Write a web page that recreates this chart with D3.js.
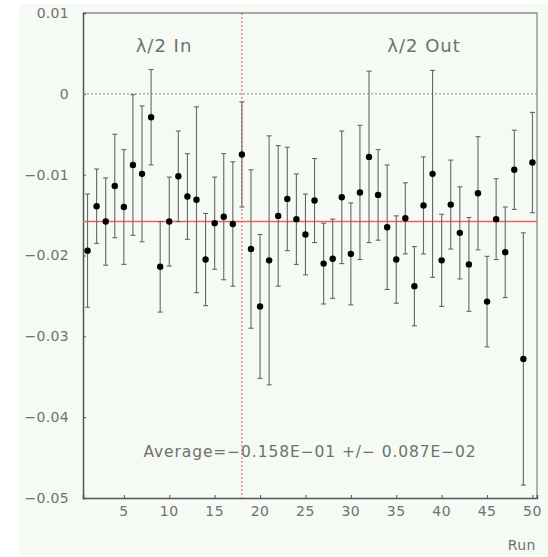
<!DOCTYPE html>
<html>
<head>
<meta charset="utf-8">
<script src="https://cdn.jsdelivr.net/npm/d3@7"></script>
<style>
  html, body { margin: 0; padding: 0; background: #ffffff; }
  svg { display: block; }
  text { font-family: "DejaVu Sans", sans-serif; fill: #707070; }
</style>
</head>
<body>
<svg id="chart" width="548" height="557"></svg>
<script>
// Asymmetry per run, with its statistical error
const runs = d3.range(1, 51);
const asym = [
  -0.0194, -0.0139, -0.0158, -0.0114, -0.0140, -0.0088, -0.0099, -0.0029, -0.0214, -0.0158,
  -0.0102, -0.0127, -0.0131, -0.0205, -0.0160, -0.0152, -0.0161, -0.0075, -0.0192, -0.0263,
  -0.0206, -0.0151, -0.0130, -0.0155, -0.0174, -0.0132, -0.0210, -0.0204, -0.0128, -0.0198,
  -0.0122, -0.0078, -0.0125, -0.0165, -0.0205, -0.0154, -0.0238, -0.0138, -0.0099, -0.0206,
  -0.0137, -0.0172, -0.0211, -0.0123, -0.0257, -0.0155, -0.0196, -0.0094, -0.0328, -0.0085
];
const asymErr = [
  0.0070, 0.0046, 0.0054, 0.0064, 0.0071, 0.0087, 0.0084, 0.0059, 0.0056, 0.0055,
  0.0056, 0.0053, 0.0115, 0.0057, 0.0057, 0.0078, 0.0077, 0.0065, 0.0098, 0.0089,
  0.0154, 0.0087, 0.0064, 0.0056, 0.0050, 0.0052, 0.0050, 0.0049, 0.0082, 0.0063,
  0.0083, 0.0106, 0.0056, 0.0077, 0.0054, 0.0044, 0.0049, 0.0060, 0.0128, 0.0057,
  0.0055, 0.0057, 0.0058, 0.0070, 0.0056, 0.0050, 0.0056, 0.0049, 0.0156, 0.0062
];
const average = -0.0158;
const waveplateSwitchRun = 18;
const yTicks = [0.01, 0, -0.01, -0.02, -0.03, -0.04, -0.05];
const xTicks = [5, 10, 15, 20, 25, 30, 35, 40, 45, 50];
const sectionLabels = ["λ/2 In", "λ/2 Out"];
const avgText = "Average=\u22120.158E\u221201 +/\u2212 0.087E\u221202";

const svg = d3.select("#chart");
const plotL = 83, plotR = 537, plotT = 13, plotB = 498;

const x = d3.scaleLinear().domain([0.5, 50.5]).range([plotL, plotR]);
const y = d3.scaleLinear().domain([-0.05, 0.01]).range([plotB, plotT]);

// page panel
svg.append("rect").attr("x", 19).attr("y", 4).attr("width", 529).attr("height", 553)
  .attr("fill", "#f5faf5");

// frame: top and right edges
svg.append("path")
  .attr("d", `M${plotL},${plotT}H${plotR}V${plotB}`)
  .attr("fill", "none").attr("stroke", "#8a8a8a").attr("stroke-width", 1.3);

const fmt = v => v === 0 ? "0" : d3.format(".2f")(v).replace("-", "\u2212");

// y axis
const yAxis = svg.append("g").attr("transform", `translate(${plotL},0)`)
  .call(d3.axisRight(y).tickValues(yTicks).tickSize(3).tickFormat(""));
yAxis.select(".domain").attr("stroke", "#555").attr("stroke-width", 1.5);
yAxis.selectAll(".tick line").attr("stroke", "#555");
svg.append("g").selectAll("text").data(yTicks).join("text")
  .attr("x", 69).attr("y", d => y(d)).attr("dy", "0.35em")
  .attr("text-anchor", "end").attr("font-size", 14).attr("letter-spacing", 0.3)
  .text(fmt);

// x axis
const xAxis = svg.append("g").attr("transform", `translate(0,${plotB})`)
  .call(d3.axisTop(x).tickValues(xTicks).tickSize(3).tickFormat(""));
xAxis.select(".domain").attr("stroke", "#555").attr("stroke-width", 1.5);
xAxis.selectAll(".tick line").attr("stroke", "#555");
svg.append("g").selectAll("text").data(xTicks).join("text")
  .attr("x", d => x(d)).attr("y", 516)
  .attr("text-anchor", "middle").attr("font-size", 14).attr("letter-spacing", 0.5)
  .text(d => d);

svg.append("text").attr("x", 536).attr("y", 550).attr("text-anchor", "end")
  .attr("font-size", 14).attr("letter-spacing", 0.5).text("Run");

// zero line
svg.append("line")
  .attr("x1", plotL).attr("x2", plotR).attr("y1", y(0)).attr("y2", y(0))
  .attr("stroke", "#888").attr("stroke-width", 1).attr("stroke-dasharray", "2,2");

// waveplate state change
svg.append("line")
  .attr("x1", x(waveplateSwitchRun)).attr("x2", x(waveplateSwitchRun))
  .attr("y1", plotT).attr("y2", plotB)
  .attr("stroke", "#e05050").attr("stroke-width", 1).attr("stroke-dasharray", "2,2");

// average line
svg.append("line")
  .attr("x1", plotL).attr("x2", plotR).attr("y1", y(average)).attr("y2", y(average))
  .attr("stroke", "#f06060").attr("stroke-width", 1.5);

// error bars
const data = runs.map((r, i) => ({ run: r, v: asym[i], e: asymErr[i] }));
const bars = svg.append("g").attr("stroke", "#666").attr("stroke-width", 1.1);
bars.selectAll("line.v").data(data).join("line").attr("class", "v")
  .attr("x1", d => x(d.run)).attr("x2", d => x(d.run))
  .attr("y1", d => y(d.v + d.e)).attr("y2", d => y(d.v - d.e));
bars.selectAll("line.cu").data(data).join("line").attr("class", "cu")
  .attr("x1", d => x(d.run) - 2.5).attr("x2", d => x(d.run) + 2.5)
  .attr("y1", d => y(d.v + d.e)).attr("y2", d => y(d.v + d.e));
bars.selectAll("line.cl").data(data).join("line").attr("class", "cl")
  .attr("x1", d => x(d.run) - 2.5).attr("x2", d => x(d.run) + 2.5)
  .attr("y1", d => y(d.v - d.e)).attr("y2", d => y(d.v - d.e));

// points
svg.append("g").selectAll("circle").data(data).join("circle")
  .attr("cx", d => x(d.run)).attr("cy", d => y(d.v)).attr("r", 3.2)
  .attr("fill", "#000");

// labels
svg.append("text").attr("x", 164).attr("y", 52).attr("text-anchor", "middle")
  .attr("font-size", 18).attr("letter-spacing", 1).text(sectionLabels[0]);
svg.append("text").attr("x", 424).attr("y", 52).attr("text-anchor", "middle")
  .attr("font-size", 18).attr("letter-spacing", 1).text(sectionLabels[1]);

svg.append("text").attr("x", 310).attr("y", 457).attr("text-anchor", "middle")
  .attr("font-size", 15.5).attr("letter-spacing", 0.9).text(avgText);
</script>
</body>
</html>
